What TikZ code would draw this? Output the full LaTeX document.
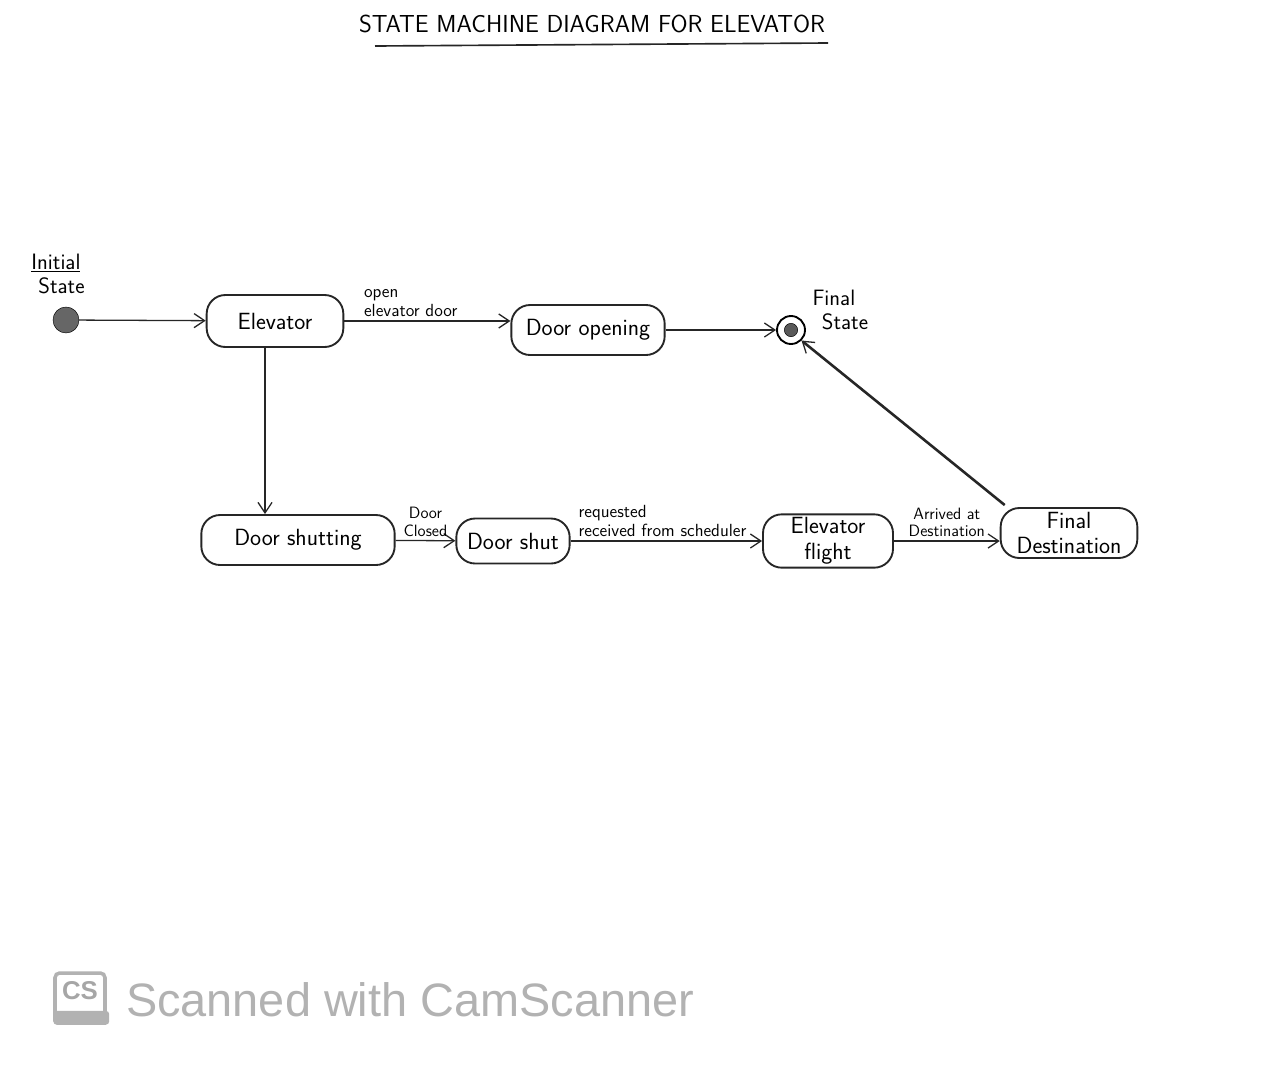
\documentclass[tikz,border=0pt]{standalone}
\usepackage{fontspec}
\newfontfamily\wmfont{Liberation Sans}
\usetikzlibrary{arrows.meta}
\begin{document}
\begin{tikzpicture}[x=0.3mm,y=-0.3mm,
  statebox/.style={draw=black!85,line width=1.6pt,rounded corners=16pt,align=center,font=\sffamily\fontsize{20}{22}\selectfont,inner sep=0pt},
  trans/.style={draw=black!85,line width=1.1pt,-{Straight Barb[length=9pt,width=12pt,line width=1.1pt]}},
  lbl/.style={font=\sffamily\fontsize{15}{16}\selectfont,align=left,inner sep=3pt},
  note/.style={font=\sffamily\fontsize{19}{21}\selectfont,align=left,inner sep=0pt}]
\useasboundingbox[fill=white] (0,0) rectangle (1280,1072);
% title
\node[font=\sffamily\fontsize{21}{21}\selectfont] (title) at (592,24) {STATE MACHINE DIAGRAM FOR ELEVATOR};
\draw[line width=1.4pt,black!85] (375,46) -- (828,43);
% initial state
\node[circle,draw=black,fill=black!60,inner sep=0pt,minimum size=7.8mm] (init) at (66,320) {};
\node[note] (initlbl) at (58,274) {\underline{Initial}\\\hspace*{6pt}State};
% states
\node[statebox,minimum width=41mm,minimum height=15.6mm] (elev) at (275,321) {Elevator};
\node[statebox,minimum width=46mm,minimum height=15mm] (dopen) at (588,330) {Door opening};
\node[statebox,minimum width=58mm,minimum height=15mm] (dshutting) at (298,540) {Door shutting};
\node[statebox,minimum width=34mm,minimum height=13.5mm] (dshut) at (513,541) {Door shut};
\node[statebox,minimum width=39mm,minimum height=16mm] (flight) at (828,541) {Elevator\\flight};
\node[statebox,minimum width=41mm,minimum height=15mm] (fdest) at (1069,533) {Final\\Destination};
% final state
\node[circle,draw=black,line width=1.6pt,minimum size=8.4mm,inner sep=0pt] (final) at (791,330) {};
\node[circle,fill=black!65,draw=black,minimum size=4mm,inner sep=0pt] (finalin) at (791,330) {};
\node[note] (finallbl) at (845,310) {\hspace*{-8pt}Final\\State};
% transitions
\draw[trans] (init) -- (elev);
\draw[trans] (elev.east) -- node[lbl,above,pos=0.4] {open\\elevator door} (dopen.west |- elev.east);
\draw[trans,line width=2.2pt] (dopen) -- (final);
\draw[trans] (elev.south -| 265,0) -- (dshutting.north -| 265,0);
\draw[trans] (dshutting) -- node[lbl,above,align=center,font=\sffamily\fontsize{14}{15}\selectfont] {Door\\Closed} (dshut);
\draw[trans] (dshut) -- node[lbl,above,pos=0.48] {requested\\received from scheduler} (flight);
\draw[trans] (flight.east) -- node[lbl,above,align=center,font=\sffamily\fontsize{14}{15}\selectfont] {Arrived at\\Destination} (fdest.west |- flight.east);
\draw[trans,line width=2.2pt] (fdest.north west) ++(5,-2) -- (final.south east);
% watermark
\node[draw=black!30,fill=white,line width=3pt,rounded corners=4pt,minimum width=15mm,minimum height=15mm] (csicon) at (80,998) {};
\fill[black!30,rounded corners=3pt] (csicon.south west) rectangle ++(56,-14);
\node[font=\wmfont\bfseries\fontsize{22}{22}\selectfont,text=black!35] (cs) at (80,991) {CS};
\node[font=\wmfont\fontsize{40}{40}\selectfont,text=black!30,anchor=west] (wm) at (122,1000) {Scanned with CamScanner};
\end{tikzpicture}
\end{document}
